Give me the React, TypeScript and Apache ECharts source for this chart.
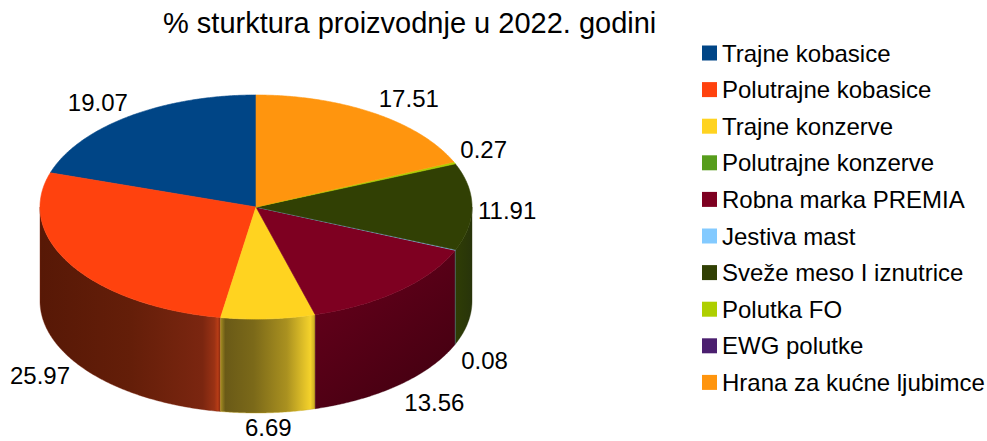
import React, { useEffect, useRef } from "react";
import * as echarts from "echarts";

const TITLE = "% sturktura proizvodnje u 2022. godini";
const CATEGORIES = [
  "Trajne kobasice",
  "Polutrajne kobasice",
  "Trajne konzerve",
  "Polutrajne konzerve",
  "Robna marka PREMIA",
  "Jestiva mast",
  "Sveže meso I iznutrice",
  "Polutka FO",
  "EWG polutke",
  "Hrana za kućne ljubimce",
];
const VALUES = [19.07, 25.97, 6.69, 0, 13.56, 0.08, 11.91, 0.27, 0, 17.51];
const COLORS = [
  "#004586",
  "#ff420e",
  "#ffd320",
  "#579d1c",
  "#7e0021",
  "#83caff",
  "#314004",
  "#aecf00",
  "#4b1f6f",
  "#ff950e",
];

// wall shading (style only)
const WALL_STOPS: (Array<[number, string]> | null)[] = [
  [[0, "#00284f"], [1, "#00325f"]],
  [[0, "#571806"], [0.5, "#641e09"], [0.9, "#7b2610"], [0.965, "#9a3214"], [0.985, "#b83c16"], [1, "#7c2610"]],
  [[0, "#a38b22"], [0.05, "#6a5a17"], [0.35, "#7b6919"], [0.7, "#aa9120"], [0.88, "#e0c028"], [0.95, "#f4d22b"], [1, "#c4a622"]],
  [[0, "#3a6a12"], [1, "#3a6a12"]],
  [[0, "#6c001d"], [1, "#3e000f"]],
  [[0, "#5f8fb8"], [1, "#5f8fb8"]],
  [[0, "#2f3d05"], [1, "#28340a"]],
  [[0, "#7a9200"], [1, "#7a9200"]],
  [[0, "#32144a"], [1, "#32144a"]],
  [[0, "#b86a0a"], [1, "#b86a0a"]],
];

const FONT = '"Liberation Sans", Arial, sans-serif';
const GEO = { cx: 256, cy: 207, rx: 216, ry: 112, h: 94 };
const CANVAS_H = 441;

const TOTAL = VALUES.reduce((a, b) => a + b, 0);
const CUM = VALUES.map((_, i) => VALUES.slice(0, i).reduce((a, b) => a + b, 0));

function pt(t: number, dy = 0, ex = 0, ey = 0): number[] {
  const r = (t * Math.PI) / 180;
  return [GEO.cx + (GEO.rx + ex) * Math.cos(r), GEO.cy - (GEO.ry + ey) * Math.sin(r) + dy];
}

function arc(a0: number, a1: number, dy: number): number[][] {
  const n = Math.max(2, Math.ceil(Math.abs(a1 - a0) / 0.5) + 1);
  const out: number[][] = [];
  for (let k = 0; k < n; k++) {
    out.push(pt(a0 + ((a1 - a0) * k) / (n - 1), dy));
  }
  return out;
}

function makeRenderItem(i: number) {
  return (params: any, api: any) => {
    const v = api.value(0);
    if (!v) return { type: "group", children: [] };
    const a0 = 90 + (CUM[i] / TOTAL) * 360;
    const a1 = a0 + (v / TOTAL) * 360;
    const children: any[] = [];
    const w0 = Math.max(a0, 180);
    const w1 = Math.min(a1, 360);
    if (w1 > w0) {
      const top = arc(w0, w1, 0);
      const bot = arc(w1, w0, GEO.h);
      const xs = top.map((p) => p[0]);
      const x0 = Math.min(...xs);
      const x1 = Math.max(...xs);
      const stops = (WALL_STOPS[i] || [[0, COLORS[i]], [1, COLORS[i]]]).map(([o, c]) => ({ offset: o, color: c }));
      const diag = i === 4;
      children.push({
        type: "polygon",
        z2: 1,
        shape: { points: top.concat(bot) },
        style: {
          fill: {
            type: "linear",
            x: x0,
            y: diag ? GEO.cy + 30 : 0,
            x2: x1,
            y2: diag ? GEO.cy + GEO.ry + GEO.h : 0,
            colorStops: stops,
            global: true,
          },
          stroke: stops[stops.length - 1].color,
          lineWidth: 0.4,
        },
      });
    }
    children.push({
      type: "polygon",
      z2: 2,
      shape: { points: [[GEO.cx, GEO.cy]].concat(arc(a0, a1, 0)) },
      style: { fill: COLORS[i], stroke: COLORS[i], lineWidth: 0.6 },
    });
    // label
    const m = (a0 + a1) / 2;
    const r = (m * Math.PI) / 180;
    const c = Math.cos(r);
    const s = Math.sin(r);
    const lower = s < -0.2;
    const upper = s > 0.2;
    const p = pt(m, lower ? GEO.h + 3 : upper ? 0 : 4, 3, 3);
    const align = c > 0.2 ? "left" : c < -0.2 ? "right" : "center";
    const x = p[0] + (align === "left" ? 3 : align === "right" ? 1 : 0);
    let y = upper ? p[1] - 12 : lower ? p[1] + 12 : p[1];
    y = Math.min(y, CANVAS_H - 13.5);
    children.push({
      type: "text",
      z2: 3,
      x,
      y,
      style: {
        text: v.toFixed(2),
        fill: "#000",
        fontSize: 24,
        lineHeight: 18,
        fontFamily: FONT,
        align,
        verticalAlign: "middle",
      },
    });
    return { type: "group", children };
  };
}

export default function App() {
  const ref = useRef<HTMLDivElement>(null);
  useEffect(() => {
    if (!ref.current) return;
    const chart = echarts.init(ref.current, undefined, { renderer: "svg" });
    chart.setOption({
      animation: false,
      color: COLORS,
      title: {
        text: TITLE,
        left: 163,
        top: 8,
        padding: 0,
        textStyle: { fontSize: 29, fontWeight: "normal", fontFamily: FONT, color: "#000" },
      },
      legend: {
        orient: "vertical",
        left: 697,
        top: 36,
        itemWidth: 15,
        itemHeight: 15,
        itemGap: 12.6,
        icon: "rect",
        selectedMode: false,
        data: CATEGORIES,
        textStyle: { fontSize: 24, fontFamily: FONT, color: "#000", lineHeight: 24 },
      },
      series: CATEGORIES.map((name, i) => ({
        type: "custom",
        name,
        coordinateSystem: "none",
        itemStyle: { color: COLORS[i] },
        data: [[VALUES[i]]],
        renderItem: makeRenderItem(i),
      })),
    });
    return () => chart.dispose();
  }, []);
  return <div ref={ref} style={{ position: "absolute", left: 0, top: 0, width: 987, height: 441 }} />;
}
